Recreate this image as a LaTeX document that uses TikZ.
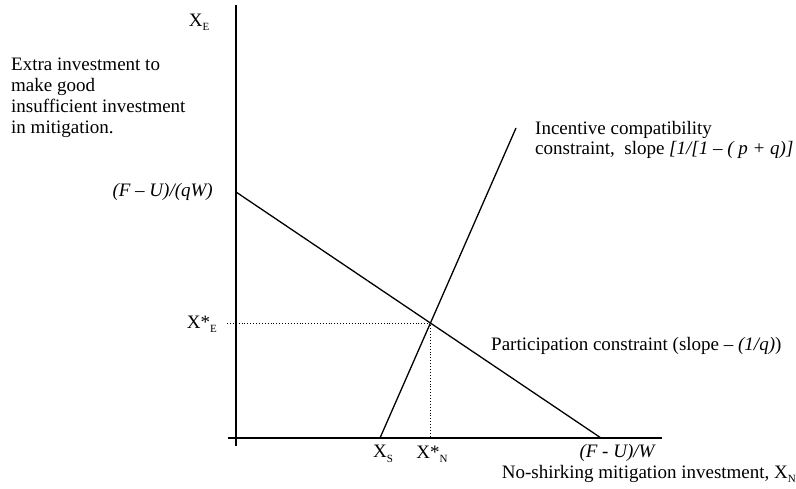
\documentclass[tikz,border=0pt]{standalone}
\usepackage{fontspec}
\setmainfont{Liberation Serif}
\newcommand\lowsub[1]{\raisebox{-0.5ex}{\fontsize{11}{11}\selectfont #1}}
\begin{document}
\begin{tikzpicture}[x=1pt,y=-1pt,
  lbl/.style={inner sep=0pt,font=\fontsize{19}{21}\selectfont},
  axis/.style={line width=1.6pt},
  curve/.style={line width=1.3pt},
  guide/.style={line width=0.9pt,dotted}]
\useasboundingbox (0,0) rectangle (796,489);
% axes
\coordinate (ytop) at (236,5);
\coordinate (ybot) at (236,446);
\coordinate (xl) at (228,438);
\coordinate (xr) at (662,438);
\draw[axis] (ytop) -- (ybot);
\draw[axis] (xl) -- (xr);
% lines
\coordinate (pc1) at (236,192);
\coordinate (pc2) at (601,438);
\coordinate (ic1) at (380,438);
\coordinate (ic2) at (516,128);
\draw[curve] (pc1) -- (pc2);
\draw[curve] (ic1) -- (ic2);
\coordinate (E) at (intersection of pc1--pc2 and ic1--ic2);
\coordinate (Ey) at (227,0 |- E);
\coordinate (Ex) at (E |- xl);
\draw[guide] (Ey) -- (E) -- (Ex);
% labels
\node[lbl] (xe) at (199,22) {X\lowsub{E}};
\node[lbl,anchor=north west,align=left] (desc) at (11,58) {Extra investment to\\make good\\insufficient investment\\in mitigation.};
\node[lbl,anchor=east] (fuqw) at (213,192) {\itshape (F -- U)/(qW)};
\node[lbl,anchor=east] (xse) at (217,324) {X*\lowsub{E}};
\node[lbl] (xs) at (383,454) {X\lowsub{S}};
\node[lbl] (xsn) at (432,454) {X*\lowsub{N}};
\node[lbl,anchor=west,align=left,font=\fontsize{19}{19.5}\selectfont] (ic) at (535,140) {Incentive compatibility\\constraint,\ \ slope \textit{[1/[1 -- ( p + q)]}};
\node[lbl,anchor=west] (pc) at (491,346) {Participation constraint (slope -- \textit{(1/q)})};
\node[lbl] (fuw) at (617,453) {\itshape (F - U)/W};
\node[lbl,anchor=east] (xn) at (796,474) {No-shirking mitigation investment, X\lowsub{N}};
\end{tikzpicture}
\end{document}
